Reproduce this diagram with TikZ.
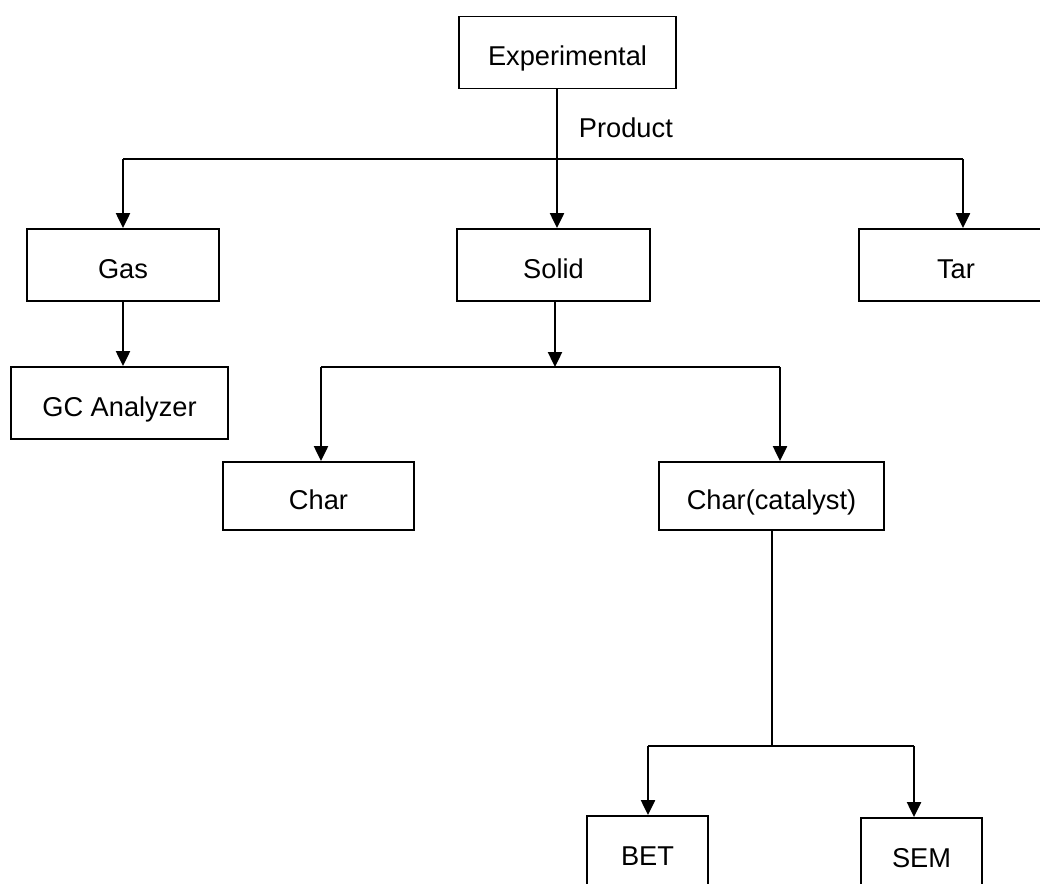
\documentclass[tikz,border=0pt]{standalone}
\usepackage{fontspec}
\setmainfont{Liberation Sans}
\usetikzlibrary{arrows.meta}

\begin{document}
\begin{tikzpicture}
	[x=0.02cm,y=-0.02cm,->,>={Triangle[length=8.5pt,width=8pt]},line width=1.1pt,
		font=\fontsize{15.5}{18}\selectfont,
		box/.style={rectangle,draw,-,inner sep=0pt,minimum height=1.44cm,text height=15pt,text depth=0pt},
		low box/.style={box,minimum height=1.36cm}]

    \useasboundingbox (0,0) rectangle (1040,883);

    \node[box, minimum width=4.34cm] (Exp) at (567.5,52.5) {Experimental};
    \node[anchor=west, inner sep=0pt] (Prod) at (578,128) {Product};

    \node[box, minimum width=3.84cm] (Gas)   at (123,265)   {Gas};
    \node[box, minimum width=3.86cm] (Solid) at (553.5,265) {Solid};
    \node[box, minimum width=3.88cm] (Tar)   at (956,265)   {Tar};

    \node[box, minimum width=4.34cm] (GC) at (119.5,403) {GC Analyzer};

    \node[low box, minimum width=3.82cm] (Char)    at (318.5,496) {Char};
    \node[low box, minimum width=4.50cm] (CharCat) at (771.5,496) {Char(catalyst)};

    \node[box, minimum width=2.42cm] (BET) at (647.5,852) {BET};
    \node[box, minimum width=2.42cm] (SEM) at (921.5,854) {SEM};

    % branch points
    \coordinate (pL) at (123,159);
    \coordinate (pM) at (557,159);
    \coordinate (pR) at (963,159);
    \coordinate (sL) at (321,367);
    \coordinate (sM) at (555,367);
    \coordinate (sR) at (780,367);
    \coordinate (cL) at (648,746);
    \coordinate (cM) at (772,746);
    \coordinate (cR) at (914,746);

    \draw[-] (pM |- Exp.south) -- (pM);
    \draw[-] (pL) -- (pR);
    \draw (pL) -- (pL |- Gas.north);
    \draw (pM) -- (pM |- Solid.north);
    \draw (pR) -- (pR |- Tar.north);

    \draw (Gas.south) -- (Gas.south |- GC.north);

    \draw (sM |- Solid.south) -- (sM);
    \draw[-] (sL) -- (sR);
    \draw (sL) -- (sL |- Char.north);
    \draw (sR) -- (sR |- CharCat.north);

    \draw[-] (cM |- CharCat.south) -- (cM);
    \draw[-] (cL) -- (cR);
    \draw (cL) -- (cL |- BET.north);
    \draw (cR) -- (cR |- SEM.north);

\end{tikzpicture}
\end{document}
